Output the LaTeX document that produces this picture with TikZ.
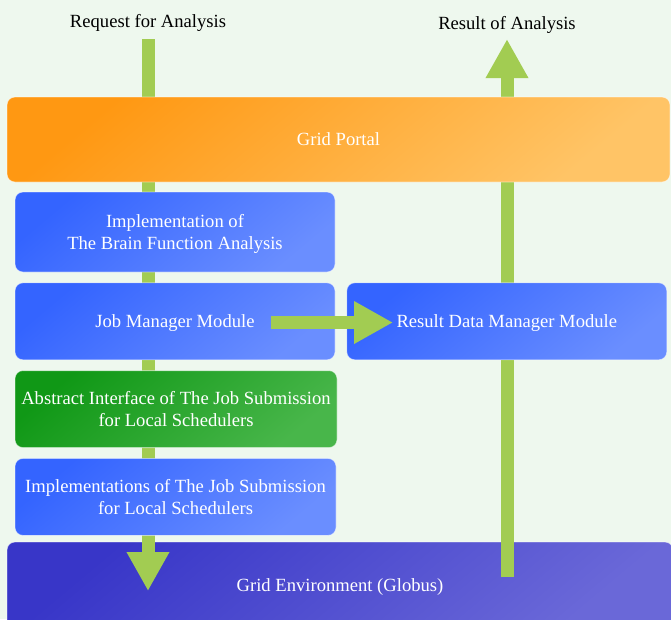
\documentclass[tikz,border=0pt]{standalone}
\usepackage{fontspec}
\setmainfont{Liberation Serif}
\usetikzlibrary{positioning,arrows.meta}

\definecolor{bgmint}{RGB}{238,248,238}
\definecolor{flowgreen}{RGB}{162,204,82}
\definecolor{portaldark}{RGB}{255,152,18}
\definecolor{portallight}{RGB}{255,196,102}
\definecolor{moddark}{RGB}{52,100,255}
\definecolor{modlight}{RGB}{106,142,255}
\definecolor{ifdark}{RGB}{16,152,22}
\definecolor{iflight}{RGB}{72,182,74}
\definecolor{envdark}{RGB}{56,54,200}
\definecolor{envlight}{RGB}{106,104,216}

\tikzset{
  layer/.style={rounded corners=8pt, draw=white, draw opacity=.5, line width=.8pt,
    text=white, align=center, inner sep=0pt, text depth=0pt,
    font=\fontsize{18.6}{22}\selectfont},
  portal/.style={layer, top color=portaldark, bottom color=portallight, shading angle=40},
  module/.style={layer, top color=moddark, bottom color=modlight, shading angle=40,
    minimum width=320pt, minimum height=77pt},
  iface/.style={layer, top color=ifdark, bottom color=iflight, shading angle=40,
    minimum width=322pt, minimum height=77pt},
  envbox/.style={layer, top color=envdark, bottom color=envlight, shading angle=40},
  caption/.style={font=\fontsize{18.6}{22}\selectfont, text=black},
  flow/.style={draw=flowgreen, line width=13pt, -{Triangle[width=40pt,length=39pt]}},
}

\begin{document}
\begin{tikzpicture}[x=1pt,y=-1pt]
\useasboundingbox (0,0) rectangle (671,619);
\fill[bgmint] (0,0) rectangle (671,619);

% bottom layer
\node[envbox, minimum width=666pt, minimum height=86pt] (globus) at (340,585) {Grid Environment (Globus)};

% request and result
\node[caption] (request) at (148,23) {Request for Analysis};
\node[caption] (result) at (507,25) {Result of Analysis};
\coordinate (reqtip) at (148,591);
\coordinate (resfoot) at (507,577);
\draw[flow, shorten <=4pt] (request.south) -- (reqtip);
\draw[flow, shorten >=2pt] (resfoot) -- (result.south);

% stack of modules
\node[portal, minimum width=663pt, minimum height=85pt] (portal) at (338.5,139.5) {Grid Portal};
\node[module, minimum height=80pt] (brain) at (175,232) {Implementation of\\The Brain Function Analysis};
\node[module, below=10pt of brain] (jobmgr) {Job Manager Module};
\node[module, right=11pt of jobmgr] (resmgr) {Result Data Manager Module};
\node[iface, below=10pt of jobmgr, xshift=1pt] (abstract) {Abstract Interface of The Job Submission\\for Local Schedulers};
\node[module, below=10pt of abstract, xshift=-.5pt, minimum width=321pt] (impl) {Implementations of The Job Submission\\for Local Schedulers};

% hand over the results
\coordinate (handoff) at (271,322.5);
\coordinate (handin) at (393,322.5);
\draw[flow] (handoff) -- (handin);
\end{tikzpicture}
\end{document}
